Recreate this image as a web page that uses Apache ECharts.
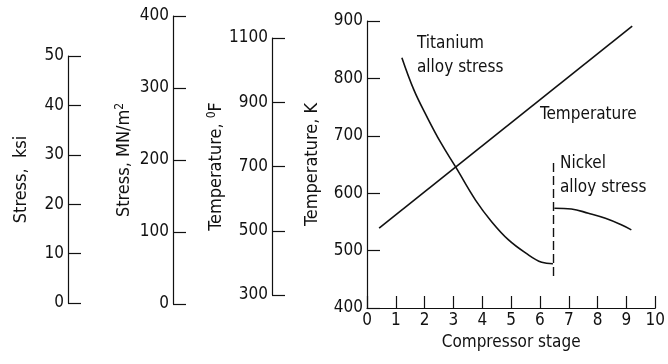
<!DOCTYPE html>
<html>
<head>
<meta charset="utf-8">
<script src="https://cdn.jsdelivr.net/npm/echarts@6/dist/echarts.min.js"></script>
<style>
html,body{margin:0;padding:0;background:#fff;}
#c{width:668px;height:364px;}
</style>
</head>
<body>
<div id="c"></div>
<script>
// ---- data ----
const stageTicks = [0,1,2,3,4,5,6,7,8,9,10];
const ksiTicks = [0,10,20,30,40,50];
const mnTicks = [0,100,200,300,400];
const degFTicks = [300,500,700,900,1100];
const kelvinTicks = [400,500,600,700,800,900];

// Temperature (K) vs compressor stage
const tempStage = [0.42, 9.2];
const tempK = [539, 891];

// Titanium alloy stress (MN/m^2)
const titStage = [1.21, 1.63, 2.08, 2.56, 3.08, 3.77, 4.33, 4.91, 5.50, 6.06, 6.45];
const titStress = [342, 297, 260, 224, 190, 144, 114, 89, 71, 58, 56];

// Nickel alloy stress (MN/m^2)
const niStage = [6.50, 7.09, 7.68, 8.27, 8.82, 9.17];
const niStress = [133, 132, 126, 119, 110, 103];

// Dashed divider between alloys (MN/m^2)
const divStage = [6.47, 6.47];
const divStress = [196, 36];

const FONT = '"DejaVu Sans Condensed","Liberation Sans Narrow","DejaVu Sans",sans-serif';
const INK = '#111';

function zip(a, b){ return a.map((v,i)=>[v,b[i]]); }

function sideAxis(ticks, interval, name, gap){
  return {
    type:'value', min:ticks[0], max:ticks[ticks.length-1], interval:interval, position:'left',
    axisLine:{show:true, lineStyle:{color:INK, width:1.2}},
    axisTick:{show:true, inside:true, length:13, lineStyle:{color:INK, width:1.2}},
    axisLabel:{color:INK, fontFamily:FONT, fontSize:17, margin:4,
      formatter:function(v){ return ticks.indexOf(v) >= 0 ? String(v) : ''; }},
    splitLine:{show:false},
    name:name, nameLocation:'middle', nameGap:gap, nameRotate:90,
    nameTextStyle:{color:INK, fontFamily:FONT, fontSize:18,
      rich:{sup:{fontFamily:FONT, fontSize:12, color:INK, verticalAlign:'top', padding:[0,0,9,0]}}}
  };
}

const chart = echarts.init(document.getElementById('c'), null, {renderer:'canvas'});

const option = {
  backgroundColor:'#fff',
  animation:false,
  grid:[
    {left:68, top:56, width:20, height:247},
    {left:173, top:16, width:20, height:288},
    {left:272, top:38, width:20, height:257},
    {left:367, top:21, width:290, height:287}
  ],
  xAxis:[
    {gridIndex:0, type:'value', show:false, min:0, max:1},
    {gridIndex:1, type:'value', show:false, min:0, max:1},
    {gridIndex:2, type:'value', show:false, min:0, max:1},
    {gridIndex:3, type:'value', min:0, max:10, interval:1,
      axisLine:{show:true, onZero:false, lineStyle:{color:INK, width:1.2}},
      axisTick:{show:true, inside:true, length:12, lineStyle:{color:INK, width:1.2}},
      axisLabel:{color:INK, fontFamily:FONT, fontSize:17, margin:4,
        formatter:function(v){ return stageTicks.indexOf(v) >= 0 ? String(v) : ''; }},
      splitLine:{show:false},
      name:'Compressor stage', nameLocation:'middle', nameGap:26,
      nameTextStyle:{color:INK, fontFamily:FONT, fontSize:17}
    }
  ],
  yAxis:[
    Object.assign(sideAxis(ksiTicks, 10, 'Stress,  ksi', 38), {gridIndex:0}),
    Object.assign(sideAxis(mnTicks, 100, 'Stress, MN/m{sup|2}', 38), {gridIndex:1}),
    Object.assign(sideAxis(degFTicks, 200, 'Temperature, {sup|0}F', 32), {gridIndex:2}),
    Object.assign(sideAxis(kelvinTicks, 100, 'Temperature, K', 46), {gridIndex:3}),
    {gridIndex:3, type:'value', show:false, min:-5.56, max:393.06, splitLine:{show:false}}
  ],
  series:[
    {type:'line', xAxisIndex:3, yAxisIndex:3, data:zip(tempStage, tempK), symbol:'none',
      lineStyle:{color:INK, width:1.6}},
    {type:'line', xAxisIndex:3, yAxisIndex:4, data:zip(titStage, titStress), symbol:'none',
      smooth:0.4, lineStyle:{color:INK, width:1.6}},
    {type:'line', xAxisIndex:3, yAxisIndex:4, data:zip(niStage, niStress), symbol:'none',
      smooth:0.4, lineStyle:{color:INK, width:1.6}},
    {type:'line', xAxisIndex:3, yAxisIndex:4, data:zip(divStage, divStress), symbol:'none',
      lineStyle:{color:INK, width:1.4, type:[9,4]}}
  ],
  graphic:[
    {type:'text', left:417, top:32, style:{text:'Titanium\nalloy stress', font:'17px '+FONT, fill:INK, lineHeight:24}},
    {type:'text', left:540, top:106, style:{text:'Temperature', font:'17px '+FONT, fill:INK}},
    {type:'text', left:560, top:152, style:{text:'Nickel\nalloy stress', font:'17px '+FONT, fill:INK, lineHeight:24}}
  ]
};
chart.setOption(option);
</script>
</body>
</html>
